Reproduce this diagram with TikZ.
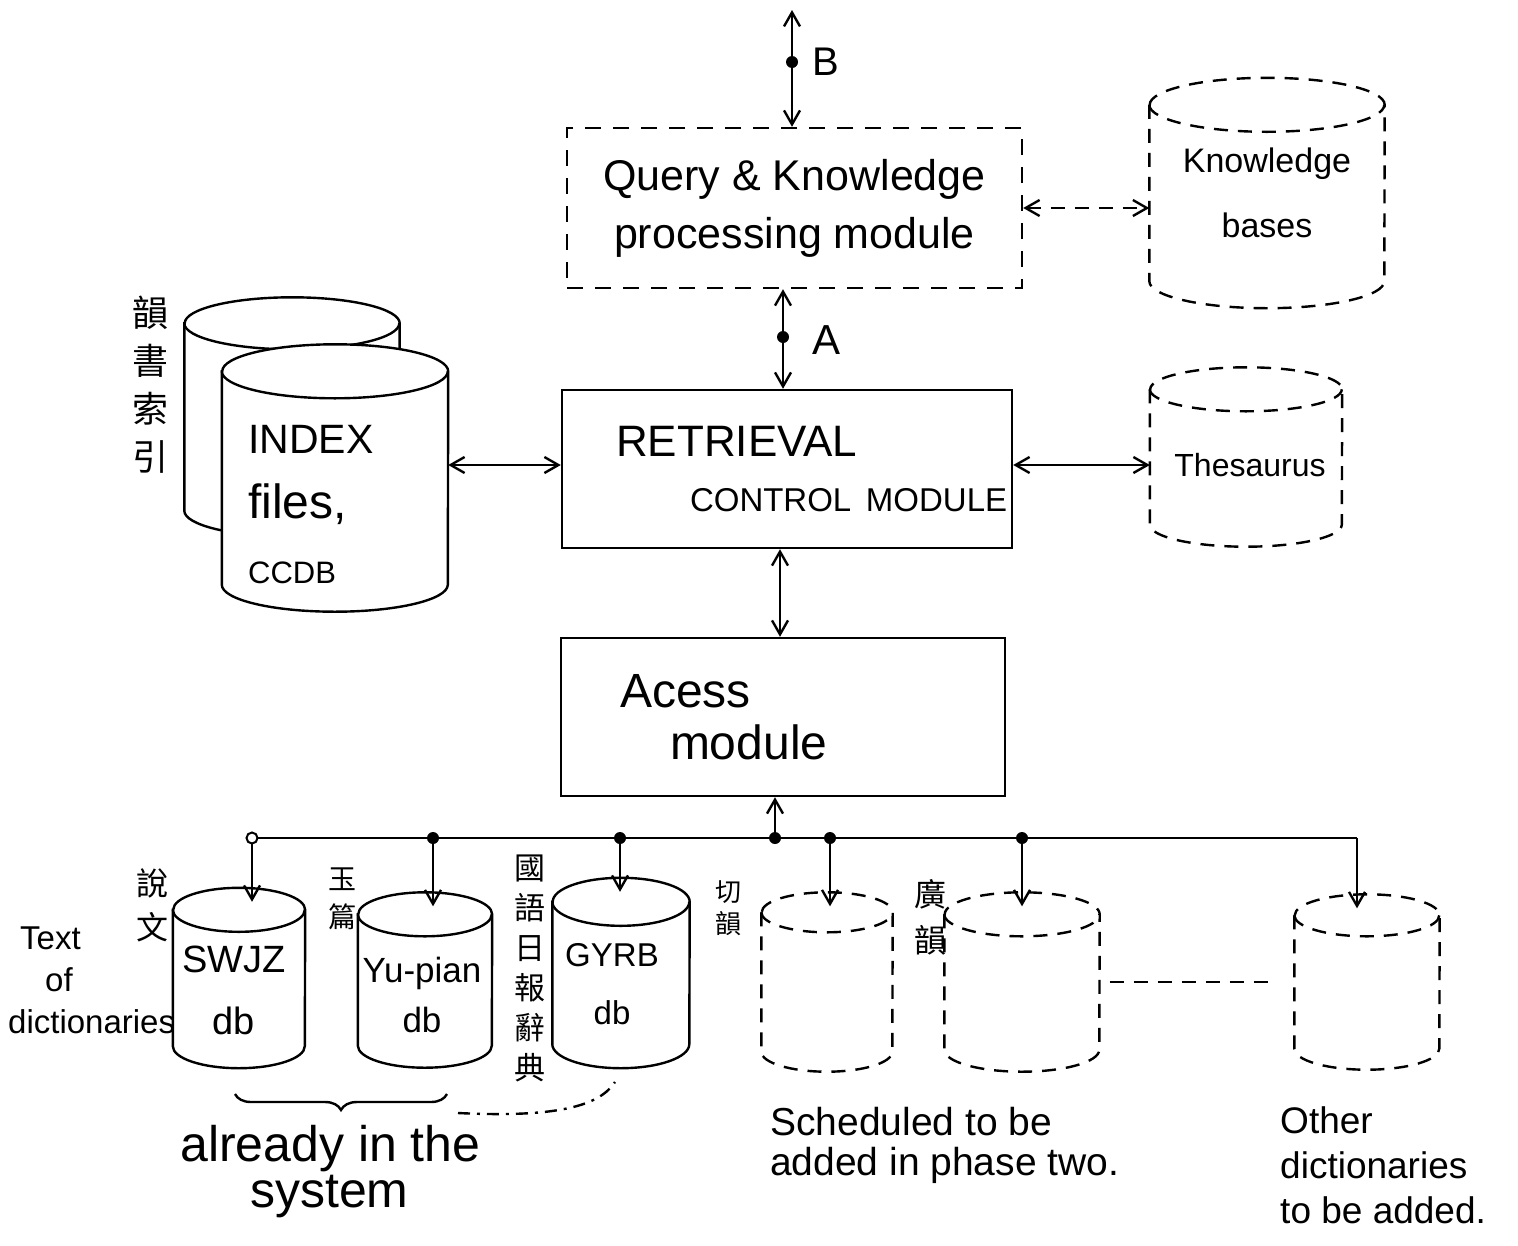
\documentclass[tikz,border=0pt]{standalone}
\usepackage{fontspec}
\setmainfont{Liberation Sans}
\newfontfamily\cjk{Noto Sans CJK TC}
\usetikzlibrary{arrows.meta,decorations.pathreplacing}
\newcommand\myfs[2]{\fontsize{#1}{#2}\selectfont}
% #1 name, #2 cx, #3 cy, #4 half width, #5 height, #6 end radius, #7 line style
\newcommand\drawcyl[7]{%
  \node[inner sep=0pt, minimum width=2*#4pt, minimum height=#5pt] (#1) at (#2,#3) {};
  \filldraw[#7, fill=white] ([yshift=-#6pt]#1.north west) -- ([yshift=#6pt]#1.south west)
     arc[start angle=180, end angle=360, x radius=#4pt, y radius=#6pt]
     -- ([yshift=-#6pt]#1.north east)
     arc[start angle=0, end angle=180, x radius=#4pt, y radius=#6pt] -- cycle;
  \draw[#7] ([yshift=-#6pt]#1.north west) arc[start angle=180, end angle=360, x radius=#4pt, y radius=#6pt];
}
\tikzset{
 ln/.style={line width=2.4pt},
 dln/.style={line width=2.4pt, dash pattern=on 14pt off 10pt},
 box/.style={draw, ln, rectangle, inner sep=0pt},
 dbox/.style={box, dash pattern=on 16pt off 12pt},
 arr/.style={ln, {Straight Barb[length=14pt,width=16pt]}-{Straight Barb[length=14pt,width=16pt]}},
 oarr/.style={ln, -{Straight Barb[length=14pt,width=16pt]}},
 dot/.style={circle, fill, inner sep=0pt, minimum size=12pt},
 odot/.style={circle, draw, line width=2pt, fill=white, inner sep=0pt, minimum size=11pt},
 lbl/.style={inner sep=0pt},
}
\begin{document}
\begin{tikzpicture}[x=1pt, y=-1pt]
\useasboundingbox (0,0) rectangle (1518,1245);

% ---------- top modules ----------
\node[dbox, minimum width=455pt, minimum height=160pt, align=center, font=\myfs{43}{58}] (query) at (794.5,208) {Query \& Knowledge\\processing module};
\node[box, minimum width=450pt, minimum height=158pt, text width=446pt, align=left, font=\myfs{44}{55}] (retr) at (787,469) {\hspace*{52pt}\mbox{RETRIEVAL}\\\hspace*{126pt}\mbox{\myfs{33}{55}CONTROL MODULE}};
\node[box, minimum width=444pt, minimum height=158pt, text width=404pt, align=left, font=\myfs{48}{52}] (acc) at (783,717) {\hspace*{39pt}Acess\\\hspace*{89pt}module};

% ---------- side stores ----------
\drawcyl{kb}{1267}{193}{117.5}{230}{27}{dln}
\node[lbl, align=center, font=\myfs{34}{65}] (kbt) at (1267,193) {Knowledge\\bases};
\drawcyl{thes}{1246}{457}{96}{179}{22}{dln}
\node[lbl, font=\myfs{32}{40}] (thest) at (1250,465) {Thesaurus};

\drawcyl{idxb}{292}{417}{107.5}{239}{26}{ln}
\drawcyl{idx}{335}{478}{113}{267}{27}{ln}
\node[lbl, anchor=west, align=left, font=\myfs{41}{65}] (idxt) at (248,505) {INDEX\\{\myfs{48}{65}files,}\\{\myfs{31}{65}CCDB}};
\node[lbl, align=center, font=\cjk\myfs{36}{48}] (ysi) at (150,385) {韻\\書\\索\\引};

% ---------- connectors top ----------
\coordinate (btop) at (792,10);
\draw[arr] (btop) -- (btop |- query.north);
\node[dot] (bdot) at (792,62) {};
\node[lbl, font=\myfs{40}{48}] (blab) at (826,62) {B};

\coordinate (ax) at (783,0);
\draw[arr] (ax |- query.south) -- (ax |- retr.north);
\node[dot] (adot) at (783,337) {};
\node[lbl, font=\myfs{42}{48}] (alab) at (826,340) {A};

\draw[arr, dash pattern=on 14pt off 10pt] (query.east) -- (kb.west |- query.east);

\coordinate (row) at (0,465);
\draw[arr] (idx.east |- row) -- (retr.west |- row);
\draw[arr] (retr.east |- row) -- (thes.west |- row);

\coordinate (rx) at (780,0);
\draw[arr] (rx |- retr.south) -- (rx |- acc.north);

% ---------- dictionaries ----------
\drawcyl{swjz}{239}{978}{66}{180}{22}{ln}
\drawcyl{yup}{425}{980}{67}{175}{22}{ln}
\drawcyl{gyrb}{621}{973}{68.5}{190}{24}{ln}
\drawcyl{qy}{827}{982}{65.5}{179}{20}{dln}
\drawcyl{gy}{1022}{982}{77.5}{179}{22}{dln}
\drawcyl{oth}{1367}{982}{72.5}{175}{21}{dln}

\node[lbl, align=center, font=\myfs{38}{62}] (swjzt) at (234,990) {SWJZ\\db};
\node[lbl, align=center, font=\myfs{35}{50}] (yupt) at (422,995) {Yu-pian\\db};
\node[lbl, align=center, font=\myfs{33}{58}] (gyrbt) at (612,984) {GYRB\\db};

\node[lbl, align=center, font=\cjk\myfs{32}{44}] (swc) at (152,905) {說\\文};
\node[lbl, align=center, font=\cjk\myfs{28}{38}] (ypc) at (342,899) {玉\\篇};
\node[lbl, align=center, font=\cjk\myfs{31}{40}] (gyc) at (530,968) {國\\語\\日\\報\\辭\\典};
\node[lbl, align=center, font=\cjk\myfs{26}{32}] (qyc) at (728,908) {切\\韻};
\node[lbl, align=center, font=\cjk\myfs{32}{46}] (gyyc) at (930,917) {廣\\韻};

\node[lbl, anchor=west, align=left, font=\myfs{33}{42}] (tod) at (8,980) {\hspace*{12pt}Text\\\hspace*{37pt}of\\dictionaries};

% ---------- bus ----------
\coordinate (b1) at (252,838);
\coordinate (b2) at (433,838);
\coordinate (b3) at (620,838);
\coordinate (bm) at (775,838);
\coordinate (b4) at (830,838);
\coordinate (b5) at (1022,838);
\coordinate (b6) at (1357,838);
\draw[ln] (b1) -- (b6);
\draw[oarr] (bm) -- (bm |- acc.south);
\draw[oarr] (b1) -- ([yshift=-14pt]swjz.north -| b1);
\draw[oarr] (b2) -- ([yshift=-14pt]yup.north -| b2);
\draw[oarr] (b3) -- ([yshift=-14pt]gyrb.north -| b3);
\draw[oarr] (b4) -- ([yshift=-14pt]qy.north -| b4);
\draw[oarr] (b5) -- ([yshift=-14pt]gy.north -| b5);
\draw[oarr] (b6) -- ([yshift=-14pt]oth.north -| b6);
\node[odot] (d1) at (b1) {};
\node[dot] (d2) at (b2) {};
\node[dot] (d3) at (b3) {};
\node[dot] (dm) at (bm) {};
\node[dot] (d4) at (b4) {};
\node[dot] (d5) at (b5) {};

\draw[dln, shorten <=10pt, shorten >=25pt] (gy.east) -- (oth.west);

% ---------- bottom notes ----------
\coordinate (brL) at (235,1094);
\coordinate (brR) at (447,1094);
\draw[ln, decorate, decoration={brace, mirror, amplitude=16pt}] (brL) -- (brR);
\coordinate (ddA) at (458,1113);
\coordinate (ddB) at (615,1082);
\draw[ln, dash pattern=on 12pt off 7pt on 3pt off 7pt] (ddA) .. controls (560,1118) and (600,1105) .. (ddB);

\node[lbl, anchor=west, align=left, font=\myfs{50}{46}] (ait) at (180,1172) {already in the\\\hspace*{70pt}system};
\node[lbl, anchor=west, align=left, font=\myfs{39}{40}] (sched) at (770,1145) {Scheduled to be\\added in phase two.};
\node[lbl, anchor=west, align=left, font=\myfs{37}{45}] (othd) at (1280,1165) {Other\\dictionaries\\to be added.};
\end{tikzpicture}
\end{document}
